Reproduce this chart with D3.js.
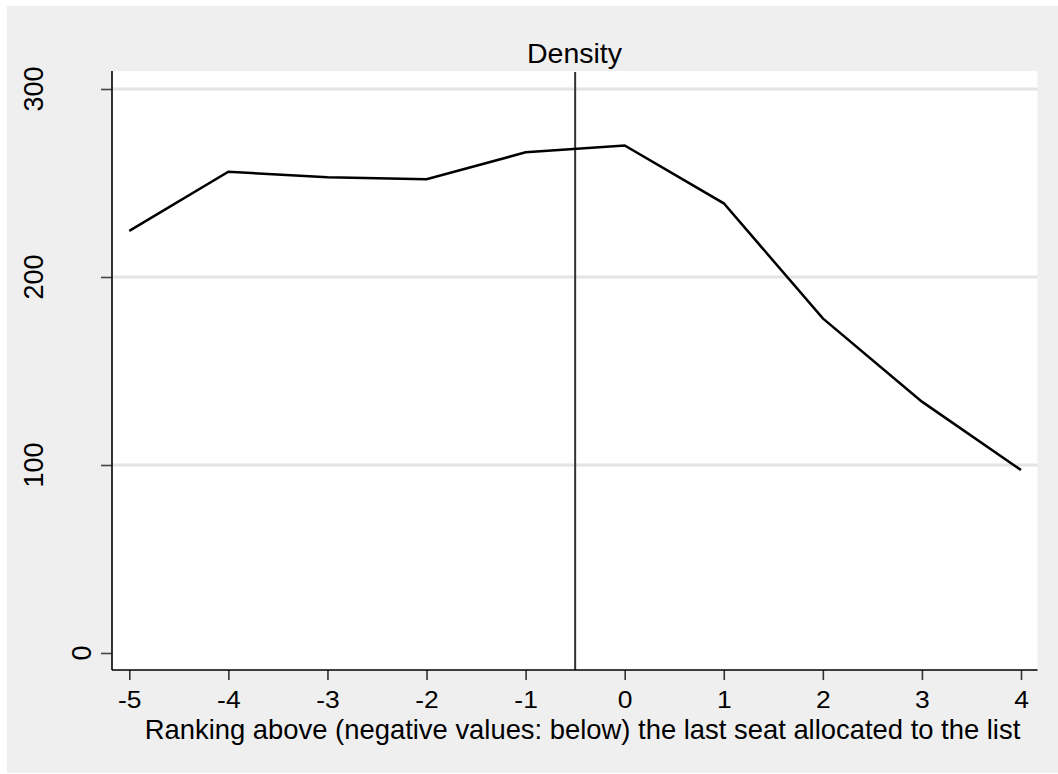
<!DOCTYPE html>
<html>
<head>
<meta charset="utf-8">
<script src="https://cdn.jsdelivr.net/npm/d3@7"></script>
<style>
  html, body { margin: 0; padding: 0; background: #ffffff; }
  svg { display: block; }
  text { font-family: "Liberation Sans", Arial, Helvetica, sans-serif; fill: #000; }
</style>
</head>
<body>
<svg id="chart" width="1058" height="774"></svg>
<script>
// ---- data ----
const ranks = [-5, -4, -3, -2, -1, 0, 1, 2, 3, 4];
const density = [224.5, 256.0, 253.0, 252.0, 266.3, 270.0, 239.2, 178.0, 133.7, 97.3];
const xTicks = [-5, -4, -3, -2, -1, 0, 1, 2, 3, 4];
const yTicks = [0, 100, 200, 300];
const gridTicks = [100, 200, 300];
const cutoff = [-0.5];
const chartTitle = "Density";
const xTitle = "Ranking above (negative values: below) the last seat allocated to the list";

const svg = d3.select("#chart");
const W = 1058, H = 774;

// outer background
svg.append("rect").attr("x", 0).attr("y", 0).attr("width", W).attr("height", H).attr("fill", "#ffffff");
svg.append("rect").attr("x", 7).attr("y", 6).attr("width", W - 7).attr("height", H - 7).attr("fill", "#efefef");

const plot = { left: 112, right: 1037.5, top: 71, bottom: 670 };
svg.append("rect")
  .attr("x", plot.left).attr("y", plot.top)
  .attr("width", plot.right - plot.left).attr("height", plot.bottom - plot.top)
  .attr("fill", "#ffffff");

const x = d3.scaleLinear().domain([-5, 4]).range([129.3, 1021]);
const y = d3.scaleLinear().domain([0, 300]).range([653, 89]);

// gridlines
svg.append("g").selectAll("line").data(gridTicks).join("line")
  .attr("x1", plot.left).attr("x2", plot.right)
  .attr("y1", d => y(d)).attr("y2", d => y(d))
  .attr("stroke", "#e4e4e4").attr("stroke-width", 3);

// cutoff line
svg.append("g").selectAll("line").data(cutoff).join("line")
  .attr("x1", d => x(d)).attr("x2", d => x(d))
  .attr("y1", plot.top + 1).attr("y2", plot.bottom)
  .attr("stroke", "#333333").attr("stroke-width", 2);

// data line
const line = d3.line().x((d, i) => x(ranks[i])).y(d => y(d));
svg.append("path").datum(density)
  .attr("d", line)
  .attr("fill", "none").attr("stroke", "#000").attr("stroke-width", 2.5)
  .attr("stroke-linejoin", "miter");

// x axis
const xAxis = d3.axisBottom(x).tickValues(xTicks).tickSize(10).tickPadding(0).tickFormat(d3.format("d"));
const gx = svg.append("g").attr("transform", `translate(0,${plot.bottom})`).call(xAxis);
gx.select(".domain").remove();
gx.selectAll(".tick line").attr("stroke", "#333").attr("stroke-width", 1.6);
gx.selectAll(".tick text")
  .attr("y", 38).attr("dy", null)
  .attr("transform", "scale(1.15,1)")
  .style("font-size", "23px")
  .style("font-family", '"Liberation Sans", Arial, sans-serif')
  .attr("fill", "#000")
  .text(d => d < 0 ? "-" + Math.abs(d) : String(d));
svg.append("line")
  .attr("x1", plot.left).attr("x2", plot.right)
  .attr("y1", plot.bottom).attr("y2", plot.bottom)
  .attr("stroke", "#000").attr("stroke-width", 1.6);

// y axis
const yAxis = d3.axisLeft(y).tickValues(yTicks).tickSize(11).tickFormat(d3.format("d"));
const gy = svg.append("g").attr("transform", `translate(${plot.left},0)`).call(yAxis);
gy.select(".domain").remove();
gy.selectAll(".tick line").attr("stroke", "#444").attr("stroke-width", 1.6);
gy.selectAll(".tick text").remove();
svg.append("line")
  .attr("x1", plot.left).attr("x2", plot.left)
  .attr("y1", plot.top).attr("y2", plot.bottom)
  .attr("stroke", "#000").attr("stroke-width", 1.6);

// rotated y labels
const yl = svg.append("g").selectAll("text").data(yTicks).join("text")
  .style("font-size", "27px")
  .attr("text-anchor", "middle")
  .attr("dominant-baseline", "central")
  .text(d => String(d));
yl.each(function(d) {
  const len = this.getComputedTextLength();
  const cx = 105 - 1.59 * len;
  d3.select(this).attr("transform", `translate(${cx},${y(d)}) rotate(-90) scale(1,1.05)`);
});

// title
svg.append("text")
  .attr("x", 574.5).attr("y", 63)
  .attr("text-anchor", "middle")
  .style("font-size", "28.5px")
  .text(chartTitle);

// x title
svg.append("text")
  .attr("x", 582.5).attr("y", 739)
  .attr("text-anchor", "middle")
  .style("font-size", "27.4px")
  .text(xTitle);
</script>
</body>
</html>
